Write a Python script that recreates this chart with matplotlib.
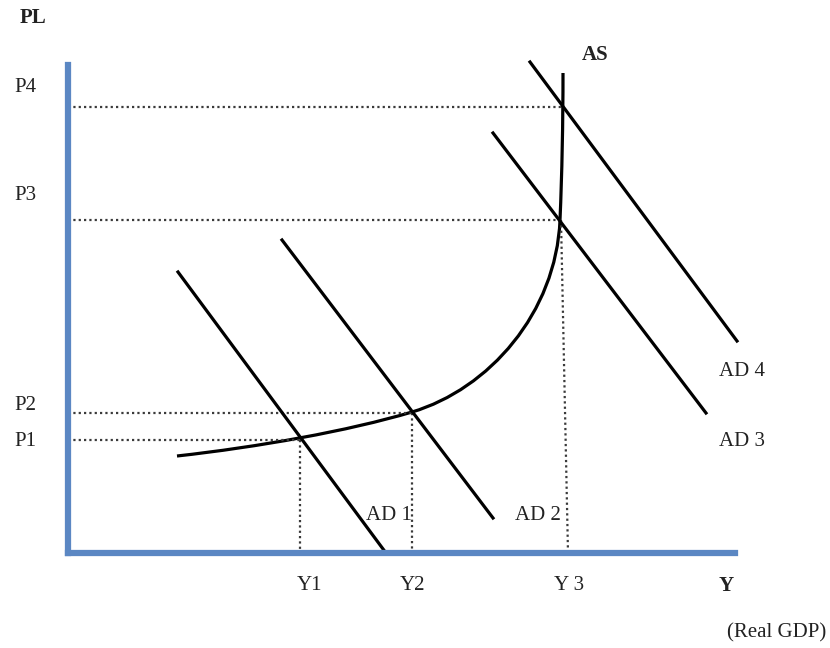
import matplotlib
matplotlib.use('Agg')
import matplotlib.pyplot as plt
from matplotlib.path import Path
from matplotlib.patches import PathPatch

plt.rcParams['font.family'] = ['Liberation Serif', 'DejaVu Serif']

# price levels and output levels (origin at the axes corner)
p_levels = [113, 140, 333, 446]
p_labels = ['P1', 'P2', 'P3', 'P4']
y_levels = [232, 344, 500]
y_labels = ['Y1', 'Y2', 'Y 3']

# equilibrium points where AS meets each AD
eq_x = [232, 344, 493, 495]
eq_y = [113, 140, 333, 446]

# aggregate supply curve as three cubic pieces (node, ctrl, ctrl, node, ...)
as_x = [109, 190, 280, 344, 421, 488, 492, 494, 495, 495]
as_y = [97, 106, 122, 141, 164, 240, 333, 380, 430, 480]

# aggregate demand lines: (x start, y start, x end, y end)
ad_names = ['AD 1', 'AD 2', 'AD 3', 'AD 4']
ad_x0 = [110, 214, 425, 462]
ad_y0 = [281, 313, 420, 491]
ad_x1 = [318, 425, 638, 669]
ad_y1 = [0, 35, 140, 212]
ad_label_x = [321, 470, 674, 674]
ad_label_y = [38, 38, 112, 182]

W, H = 830, 648
fig = plt.figure(figsize=(W / 100, H / 100), dpi=100)
x0, x1, ytop, ybot = 68, 735, 65, 553
ax = fig.add_axes([x0 / W, (H - ybot) / H, (x1 - x0) / W, (ybot - ytop) / H])
ax.set_xlim(0, x1 - x0)
ax.set_ylim(0, ybot - ytop)

blue = '#5b87c3'
for side in ['top', 'right']:
    ax.spines[side].set_visible(False)
for side in ['left', 'bottom']:
    ax.spines[side].set_color(blue)
    ax.spines[side].set_linewidth(4.5)
    ax.spines[side].set_capstyle('projecting')
ax.set_xticks([])
ax.set_yticks([])

dot = dict(color='#3a3a3a', lw=1.6, ls=(0, (1, 1.4)), clip_on=False)
# horizontal dotted guides to each price level
for p, ex in zip(p_levels, eq_x):
    ax.plot([0, ex], [p, p], **dot)
# vertical dotted guides down to each output level
for yv, ex, ey in zip(y_levels, eq_x[:3], eq_y[:3]):
    ax.plot([ex, yv], [ey, 0], **dot)

codes = [Path.MOVETO] + [Path.CURVE4] * (len(as_x) - 1)
as_path = Path(list(zip(as_x, as_y)), codes)
ax.add_patch(PathPatch(as_path, facecolor='none', edgecolor='black', lw=2.3, clip_on=False))

for xa, ya, xb, yb in zip(ad_x0, ad_y0, ad_x1, ad_y1):
    ax.plot([xa, xb], [ya, yb], color='black', lw=2.3, clip_on=False)

tc = '#222222'
fs = 15
for name, lx, ly in zip(ad_names, ad_label_x, ad_label_y):
    ax.text(lx, ly, name, fontsize=fs, color=tc, ha='center', va='center', clip_on=False)

p_label_y = [112, 147, 357, 465]
for lab, ly in zip(p_labels, p_label_y):
    ax.text(-43, ly, lab, fontsize=fs, color=tc, ha='center', va='center', clip_on=False)
y_label_x = [241, 344, 501]
for lab, lx in zip(y_labels, y_label_x):
    ax.text(lx, -33, lab, fontsize=fs, color=tc, ha='center', va='center', clip_on=False)

ax.text(-35, 535, 'PL', fontsize=fs, color=tc, fontweight='bold', ha='center', va='center', clip_on=False)
ax.text(527, 498, 'AS', fontsize=fs, color=tc, fontweight='bold', ha='center', va='center', clip_on=False)
ax.text(658, -33, 'Y', fontsize=fs, color=tc, fontweight='bold', ha='center', va='center', clip_on=False)
ax.text(758, -80, '(Real GDP)', fontsize=fs, color=tc, ha='right', va='center', clip_on=False)

fig.savefig('out.png', dpi=100)
